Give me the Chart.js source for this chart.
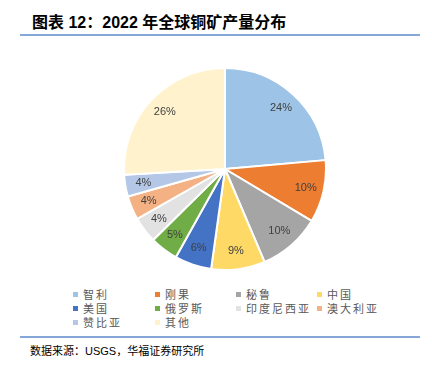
<!DOCTYPE html>
<html>
<head>
<meta charset="utf-8">
<script src="https://cdn.jsdelivr.net/npm/chart.js@4.4.0/dist/chart.umd.min.js"></script>
<style>
  body { margin: 0; background: #fff; font-family: "Liberation Sans", "Noto Sans CJK SC", sans-serif; }
  #page { position: relative; width: 432px; height: 370px; overflow: hidden; }
  #title { position: absolute; left: 32px; top: 9px; font-size: 16px; font-weight: bold; color: #000; white-space: nowrap; }
  .rule { position: absolute; left: 20px; width: 400px; height: 2px; background: #83A8D8; }
  #chartBox { position: absolute; left: 123px; top: 67px; width: 204px; height: 204px; }
  #legend { position: absolute; left: 73px; top: 287px; width: 360px; font-size: 11px; color: #595959; }
  .item { position: absolute; white-space: nowrap; letter-spacing: 2px; line-height: 16px; }
  .item i { display: inline-block; width: 5px; height: 5px; margin-right: 5px; vertical-align: 2px; }
  #source { position: absolute; left: 30px; top: 343px; font-size: 11px; line-height: 16px; color: #000; white-space: nowrap; }
</style>
</head>
<body>
<div id="page">
  <div id="title">图表 12：2022 年全球铜矿产量分布</div>
  <div class="rule" style="top:34px"></div>
  <div id="chartBox"><canvas id="chart-1"></canvas></div>
  <div id="legend"></div>
  <div class="rule" style="top:336px"></div>
  <div id="source">数据来源：USGS，华福证券研究所</div>
</div>
<script>
// 2022 copper mine output share (%)
const countries = ["智利", "刚果", "秘鲁", "中国", "美国", "俄罗斯", "印度尼西亚", "澳大利亚", "赞比亚", "其他"];
const shares = [23.6, 10.0, 10.0, 8.6, 5.9, 4.5, 4.2, 3.8, 3.5, 25.9];
const colors = ["#9DC3E6", "#ED7D31", "#A5A5A5", "#FFD966", "#4472C4", "#70AD47", "#E2E2E2", "#F4B183", "#B4C7E7", "#FFF2CC"];

// legend, 4 columns like the original
const colX = [0, 82, 163, 244];
const legend = document.getElementById("legend");
countries.forEach(function (name, i) {
  const d = document.createElement("div");
  d.className = "item";
  d.style.left = colX[i % 4] + "px";
  d.style.top = (Math.floor(i / 4) * 14) + "px";
  d.innerHTML = '<i style="background:' + colors[i] + '"></i>' + name;
  legend.appendChild(d);
});

// percent labels inside slices
const sliceLabels = {
  id: "sliceLabels",
  afterDatasetsDraw(chart) {
    const ctx = chart.ctx;
    const meta = chart.getDatasetMeta(0);
    const total = shares.reduce((a, b) => a + b, 0);
    ctx.save();
    ctx.font = '11px "Liberation Sans", sans-serif';
    ctx.fillStyle = "#404040";
    ctx.textAlign = "center";
    ctx.textBaseline = "middle";
    meta.data.forEach(function (arc, i) {
      const mid = (arc.startAngle + arc.endAngle) / 2;
      const r = arc.outerRadius * 0.82;
      ctx.fillText(Math.round(shares[i] / total * 100) + "%", arc.x + Math.cos(mid) * r, arc.y + Math.sin(mid) * r);
    });
    ctx.restore();
  }
};

new Chart(document.getElementById("chart-1"), {
  type: "pie",
  data: {
    labels: countries,
    datasets: [{
      data: shares,
      backgroundColor: colors,
      borderColor: "#fff",
      borderWidth: 2
    }]
  },
  options: {
    responsive: true,
    maintainAspectRatio: false,
    animation: false,
    plugins: {
      legend: { display: false },
      tooltip: { enabled: false }
    }
  },
  plugins: [sliceLabels]
});
</script>
</body>
</html>
